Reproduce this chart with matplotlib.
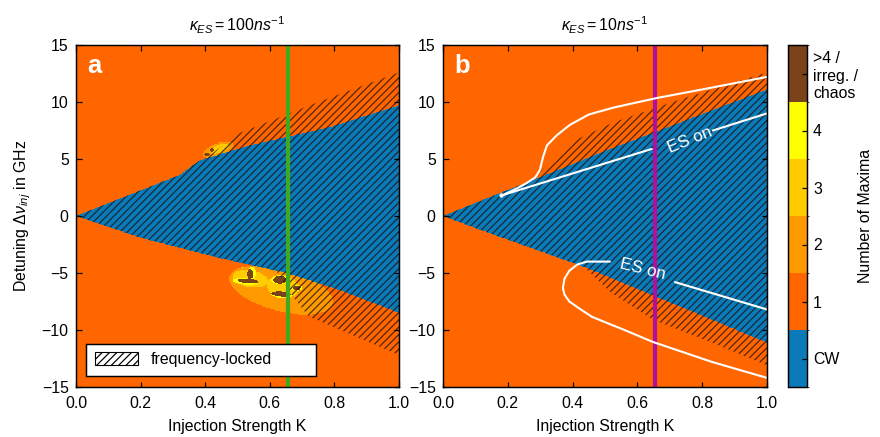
import numpy as np
import matplotlib
matplotlib.use('Agg')
import matplotlib.pyplot as plt
from matplotlib.colors import ListedColormap, BoundaryNorm
from matplotlib.cm import ScalarMappable
from matplotlib.patches import Patch

plt.rcParams['font.family'] = ['Liberation Sans', 'DejaVu Sans']
plt.rcParams['mathtext.fontset'] = 'custom'
plt.rcParams['mathtext.rm'] = 'Liberation Sans'
plt.rcParams['mathtext.it'] = 'Liberation Sans:italic'
plt.rcParams['mathtext.bf'] = 'Liberation Sans:bold'
plt.rcParams['hatch.linewidth'] = 1.0

# ---------------- data ----------------
category_labels = ['CW', '1', '2', '3', '4', '>4 /\nirreg. /\nchaos']
category_colors = ['#0a7bb8', '#ff6600', '#ff9900', '#ffcc00', '#ffff00', '#7a4218']

x_ticks = [0.0, 0.2, 0.4, 0.6, 0.8, 1.0]
y_ticks = [-15, -10, -5, 0, 5, 10, 15]
K_line = 0.655

# panel a: CW region boundaries
a_blue_upper_K = [0.0, 0.32, 0.384, 0.54, 0.786, 1.0]
a_blue_upper_y = [0.0, 3.6, 4.9, 6.2, 7.8, 9.7]
a_blue_lower_K = [0.0, 0.2, 0.446, 0.653, 0.817, 1.0]
a_blue_lower_y = [0.0, -1.9, -3.7, -5.0, -6.5, -8.5]
# panel a: frequency-locked edges beyond CW region
a_lock_upper_K = [0.40, 0.50, 0.75, 1.0]
a_lock_upper_y = [5.0, 7.2, 10.0, 12.6]
a_lock_lower_K = [0.62, 0.67, 0.72, 1.0]
a_lock_lower_y = [-4.8, -7.0, -8.8, -12.2]
# panel a: irregular islands (K, y, semi-axis u, semi-axis v, angle, category)
a_islands_K = [0.635, 0.44,
               0.54, 0.64, 0.445,
               0.525, 0.545, 0.632, 0.636, 0.684, 0.516,
               0.533, 0.539, 0.632, 0.635, 0.684, 0.514, 0.405, 0.42]
a_islands_y = [-6.5, 5.8,
               -5.5, -6.2, 5.9,
               -5.75, -5.0, -5.6, -6.9, -6.3, -4.3,
               -5.7, -5.1, -5.6, -6.85, -6.3, -4.3, 5.4, 5.8]
a_islands_u = [0.165, 0.05,
               0.055, 0.05, 0.03,
               0.04, 0.012, 0.027, 0.033, 0.016, 0.012,
               0.033, 0.009, 0.022, 0.03, 0.012, 0.009, 0.008, 0.007]
a_islands_v = [0.065, 0.02,
               0.026, 0.035, 0.012,
               0.01, 0.019, 0.014, 0.01, 0.009, 0.008,
               0.007, 0.016, 0.012, 0.008, 0.007, 0.006, 0.006, 0.005]
a_islands_ang = [-15, 20,
                 -10, -10, 20,
                 -5, 0, 0, -5, 0, 0,
                 -5, 0, 0, -5, 0, 0, 0, 0]
a_islands_cat = [2, 2,
                 3, 3, 3,
                 4, 4, 4, 4, 4, 4,
                 5, 5, 5, 5, 5, 5, 5, 5]

# panel b: CW region boundaries
b_blue_upper_K = [0.0, 0.5, 1.0]
b_blue_upper_y = [0.0, 5.7, 11.1]
b_blue_lower_K = [0.0, 0.114, 0.444, 1.0]
b_blue_lower_y = [0.0, -1.2, -4.56, -11.1]
# panel b: frequency-locked edges
b_lock_upper_K = [0.30, 0.42, 0.525, 0.73, 1.0]
b_lock_upper_y = [3.9, 6.8, 8.2, 10.2, 12.6]
b_lock_lower_K = [0.44, 0.52, 0.648, 0.83, 1.0]
b_lock_lower_y = [-4.6, -6.75, -9.1, -11.1, -13.1]
# panel b: white curves
b_curve1_K = [0.185, 0.22, 0.259, 0.285, 0.299, 0.309, 0.321, 0.352, 0.392, 0.45, 0.525, 0.66, 0.8, 1.0]
b_curve1_y = [1.84, 2.3, 2.9, 3.4, 4.04, 5.2, 6.2, 7.1, 8.0, 8.9, 9.5, 10.35, 11.1, 12.2]
b_es1a_K = [0.185, 0.644]
b_es1a_y = [1.84, 5.88]
b_es1b_K = [0.833, 1.0]
b_es1b_y = [7.5, 9.0]
b_curve2_K = [0.515, 0.444, 0.415, 0.39, 0.375, 0.37, 0.375, 0.39, 0.42, 0.46, 0.56, 0.648, 0.83, 1.0]
b_curve2_y = [-4.0, -4.0, -4.25, -4.8, -5.5, -6.3, -6.9, -7.5, -8.1, -8.85, -10.0, -11.05, -12.8, -14.2]
b_es2_K = [0.716, 1.0]
b_es2_y = [-5.8, -8.2]

# ---------------- helpers ----------------
nK, ny = 600, 600
Kc = (np.arange(nK) + 0.5) / nK
Yc = -15 + (np.arange(ny) + 0.5) * 30 / ny
KK, YY = np.meshgrid(Kc, Yc)
S = (342 / 30) / 323  # y-units to K-width (pixel aspect)


def build_map(bu_K, bu_y, bl_K, bl_y, isl=None):
    up = np.interp(KK, bu_K, bu_y)
    lo = np.interp(KK, bl_K, bl_y)
    cat = np.ones_like(KK)
    if isl is not None:
        outer = None
        for cK, cy, a, b, ang, c in zip(*isl):
            t = np.deg2rad(ang)
            u = KK - cK
            v = (YY - cy) * S
            ur = u * np.cos(t) + v * np.sin(t)
            vr = -u * np.sin(t) + v * np.cos(t)
            m = (ur / a) ** 2 + (vr / b) ** 2 <= 1
            if c == 2:
                outer = m if outer is None else (outer | m)
            else:
                m = m & outer
            cat[m] = c
    cat[(YY <= up) & (YY >= lo)] = 0
    return cat


def lock_edges(bu_K, bu_y, bl_K, bl_y, lu_K, lu_y, ll_K, ll_y):
    k = np.linspace(0, 1, 800)
    up = np.interp(k, bu_K, bu_y)
    lo = np.interp(k, bl_K, bl_y)
    hu = np.where(k >= lu_K[0], np.interp(k, lu_K, lu_y), -99)
    hl = np.where(k >= ll_K[0], np.interp(k, ll_K, ll_y), 99)
    return k, np.maximum(up, hu), np.minimum(lo, hl)


cmap = ListedColormap(category_colors)
norm = BoundaryNorm(np.arange(-0.5, 6.5, 1), cmap.N)

FS = 13
W, H, DPI = 880, 437, 88
fig = plt.figure(figsize=(W / DPI, H / DPI), dpi=DPI)
axa = fig.add_axes([76 / W, 50 / H, 323 / W, 342 / H])
axb = fig.add_axes([443 / W, 50 / H, 324 / W, 342 / H])
cax = fig.add_axes([788 / W, 50 / H, 19 / W, 342 / H])

map_a = build_map(a_blue_upper_K, a_blue_upper_y, a_blue_lower_K, a_blue_lower_y,
                  (a_islands_K, a_islands_y, a_islands_u, a_islands_v, a_islands_ang, a_islands_cat))
map_b = build_map(b_blue_upper_K, b_blue_upper_y, b_blue_lower_K, b_blue_lower_y)

hatch_col = (0.1, 0.05, 0.05, 0.75)
for ax, m, edges in [
    (axa, map_a, (a_blue_upper_K, a_blue_upper_y, a_blue_lower_K, a_blue_lower_y,
                  a_lock_upper_K, a_lock_upper_y, a_lock_lower_K, a_lock_lower_y)),
    (axb, map_b, (b_blue_upper_K, b_blue_upper_y, b_blue_lower_K, b_blue_lower_y,
                  b_lock_upper_K, b_lock_upper_y, b_lock_lower_K, b_lock_lower_y))]:
    ax.imshow(m, cmap=cmap, norm=norm, origin='lower', extent=[0, 1, -15, 15],
              aspect='auto', interpolation='nearest')
    k, hu, hl = lock_edges(*edges)
    ax.fill_between(k, hl, hu, facecolor='none', edgecolor=hatch_col, hatch='////', linewidth=0)
    ax.set_xlim(0, 1)
    ax.set_ylim(-15, 15)
    ax.set_xticks(x_ticks)
    ax.set_yticks(y_ticks)
    ax.set_xticklabels([f'{t:.1f}' for t in x_ticks])
    ax.set_yticklabels([str(t).replace('-', '\u2212') for t in y_ticks])
    ax.tick_params(direction='in', top=True, right=True, length=4.5, width=1,
                   labelsize=FS, pad=6)
    ax.tick_params(axis='x', pad=7)
    for s in ax.spines.values():
        s.set_linewidth(1.2)
    ax.set_xlabel('Injection Strength K', fontsize=FS, labelpad=7)

axa.axvline(K_line, color='#3fa91f', lw=3.4)
axb.axvline(K_line, color='#b0109e', lw=3.4)

axa.set_title(r'$\kappa_{ES} = 100ns^{-1}$', fontsize=FS, pad=11)
axb.set_title(r'$\kappa_{ES} = 10ns^{-1}$', fontsize=FS, pad=11)
axa.set_ylabel(r'Detuning $\Delta\nu_{inj}$ in GHz', fontsize=FS, labelpad=7)

axa.text(0.036, 0.918, 'a', transform=axa.transAxes, color='white', fontsize=21,
         fontweight='bold', va='baseline')
axb.text(0.036, 0.918, 'b', transform=axb.transAxes, color='white', fontsize=21,
         fontweight='bold', va='baseline')

# white curves panel b
lk = dict(color='white', lw=1.7, solid_capstyle='round', solid_joinstyle='round')
axb.plot(b_curve1_K, b_curve1_y, **lk)
axb.plot(b_es1a_K, b_es1a_y, **lk)
axb.plot(b_es1b_K, b_es1b_y, **lk)
axb.plot(b_curve2_K, b_curve2_y, **lk)
axb.plot(b_es2_K, b_es2_y, **lk)
axb.plot([0.178], [1.8], 'o', color='white', ms=2.5)
axb.text(0.762, 6.67, 'ES on', color='white', fontsize=14, rotation=22,
         ha='center', va='center')
axb.text(0.617, -4.65, 'ES on', color='white', fontsize=14, rotation=-14,
         ha='center', va='center')

# legend panel a
leg = axa.legend(handles=[Patch(facecolor='white', edgecolor='black', hatch='////', lw=0.9)],
                 labels=['frequency-locked'], loc='lower left',
                 bbox_to_anchor=(0.031, 0.032, 0.712, 0.091), mode='expand',
                 fancybox=False, framealpha=1, edgecolor='black', fontsize=FS,
                 handlelength=2.7, handleheight=0.9, borderaxespad=0,
                 borderpad=0.55, handletextpad=0.8)
leg.get_frame().set_linewidth(1.2)

# colorbar
cb = fig.colorbar(ScalarMappable(norm=norm, cmap=cmap), cax=cax, ticks=range(6))
cb.ax.set_yticklabels(category_labels)
cb.ax.tick_params(direction='in', length=4, width=1, labelsize=FS, pad=5)
cb.outline.set_linewidth(1.2)
cb.set_label('Number of Maxima', fontsize=FS, labelpad=0)

fig.savefig('out.png', dpi=DPI)
